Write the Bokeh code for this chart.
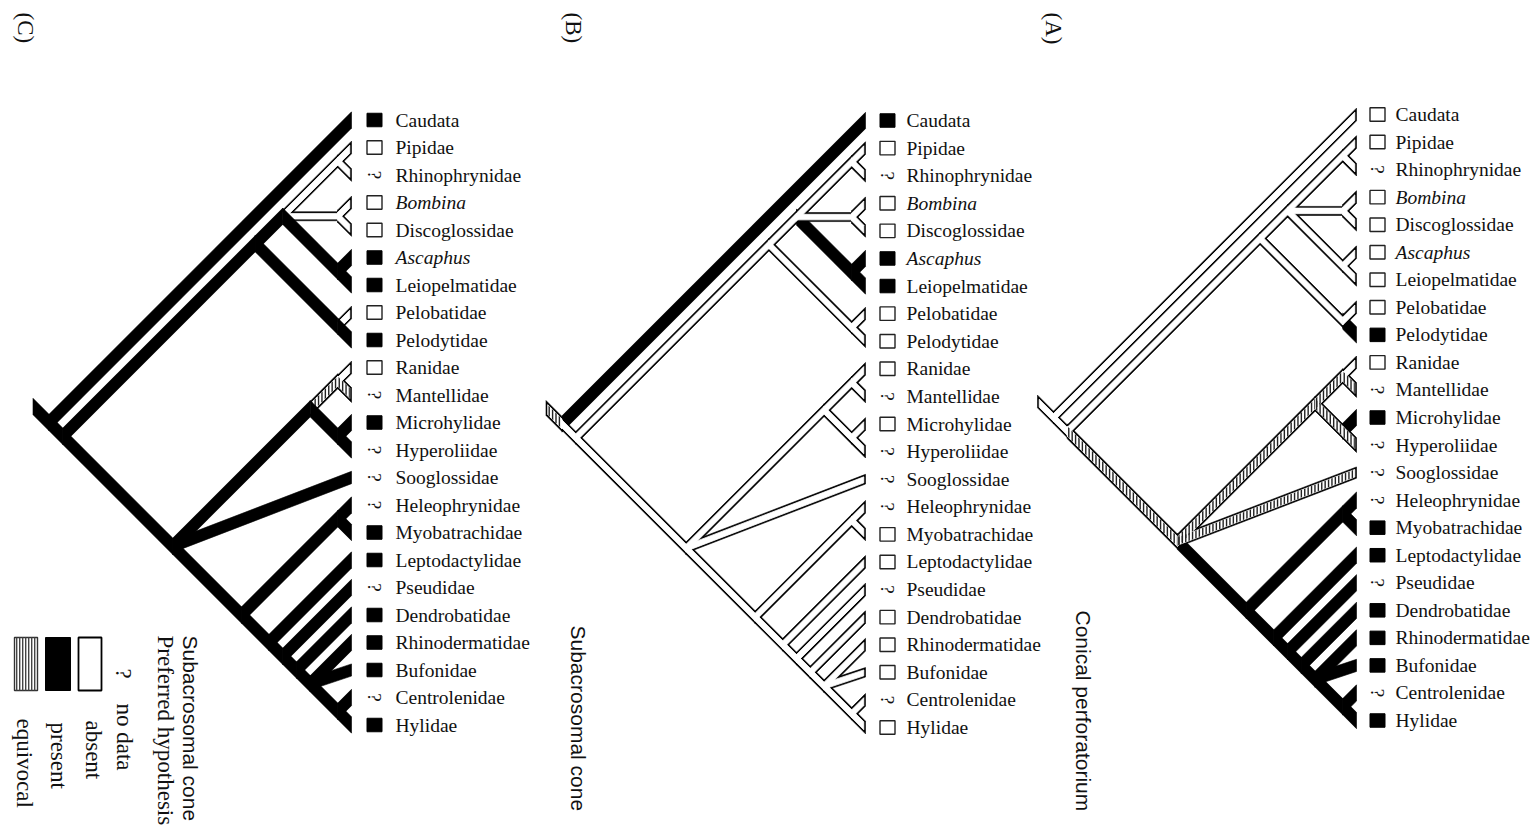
import numpy as np
from bokeh.plotting import figure
from bokeh.models import Range1d, ColumnDataSource
from bokeh.embed import file_html
from bokeh.resources import INLINE
from bokeh.core.properties import value

# ---------------- data ----------------
TAXA = ["Caudata", "Pipidae", "Rhinophrynidae", "Bombina", "Discoglossidae",
        "Ascaphus", "Leiopelmatidae", "Pelobatidae", "Pelodytidae", "Ranidae",
        "Mantellidae", "Microhylidae", "Hyperoliidae", "Sooglossidae",
        "Heleophrynidae", "Myobatrachidae", "Leptodactylidae", "Pseudidae",
        "Dendrobatidae", "Rhinodermatidae", "Bufonidae", "Centrolenidae", "Hylidae"]
ITALIC_TAXA = ["Bombina", "Ascaphus"]

# preferred hypothesis (topology)
CLADE_NAMES = ["Root", "Anura", "Archaeobatrachia", "PipLeio", "Pipoidea",
               "Discoglossoidea", "Leiopelmatoidea", "Pelobatoidea", "Neobatrachia",
               "Ranoidea", "RanMant", "MicroHyper", "Hyloidea", "HeleoMyo",
               "Hyl2", "Hyl3", "Hyl4", "Hyl5", "CentroHyl"]
CLADE_CHILDREN = [
    ["Caudata", "Anura"],
    ["Archaeobatrachia", "Neobatrachia"],
    ["PipLeio", "Pelobatoidea"],
    ["Pipoidea", "Discoglossoidea", "Leiopelmatoidea"],
    ["Pipidae", "Rhinophrynidae"],
    ["Bombina", "Discoglossidae"],
    ["Ascaphus", "Leiopelmatidae"],
    ["Pelobatidae", "Pelodytidae"],
    ["Ranoidea", "Sooglossidae", "Hyloidea"],
    ["RanMant", "MicroHyper"],
    ["Ranidae", "Mantellidae"],
    ["Microhylidae", "Hyperoliidae"],
    ["HeleoMyo", "Hyl2"],
    ["Heleophrynidae", "Myobatrachidae"],
    ["Leptodactylidae", "Hyl3"],
    ["Pseudidae", "Hyl4"],
    ["Dendrobatidae", "Hyl5"],
    ["Rhinodermatidae", "Bufonidae", "CentroHyl"],
    ["Centrolenidae", "Hylidae"],
]

BRANCHES = ["stem", "Caudata", "Anura", "Archaeobatrachia", "PipLeio",
            "Pipoidea", "Pipidae", "Rhinophrynidae",
            "Discoglossoidea", "Bombina", "Discoglossidae",
            "Leiopelmatoidea", "Ascaphus", "Leiopelmatidae",
            "Pelobatoidea", "Pelobatidae", "Pelodytidae",
            "Neobatrachia", "Ranoidea",
            "RanMant", "Ranidae", "Mantellidae",
            "MicroHyper", "Microhylidae", "Hyperoliidae",
            "Sooglossidae",
            "Hyloidea", "HeleoMyo", "Heleophrynidae", "Myobatrachidae",
            "Hyl2", "Leptodactylidae", "Hyl3", "Pseudidae", "Hyl4", "Dendrobatidae",
            "Hyl5", "Rhinodermatidae", "Bufonidae", "CentroHyl", "Centrolenidae", "Hylidae"]

# branch reconstructions: p = present, a = absent, e = equivocal
STATE_C = list("ppppp" "aaa" "aaa" "ppp" "pap" "pp" "eae" "ppp" "p" "pppppppppppppppp")
STATE_B = list("ep" "aaaaaaaaa" "ppp" "aaaaaaaaaaaaaaaaaaaaaaaaaaaa")
STATE_A = list("aaaaaaaaaaaaaaaa" "p" "eee" "a" "ee" "p" "ee" "pppppppppppppppp")

# terminal codings: 1 = present, 0 = absent, ? = no data
TIPS_C = ["1", "0", "?", "0", "0", "1", "1", "0", "1", "0", "?", "1", "?", "?", "?",
          "1", "1", "?", "1", "1", "1", "?", "1"]
TIPS_B = ["1", "0", "?", "0", "0", "1", "1", "0", "0", "0", "?", "0", "?", "?", "?",
          "0", "0", "?", "0", "0", "0", "?", "0"]
TIPS_A = ["0", "0", "?", "0", "0", "0", "0", "0", "1", "0", "?", "1", "?", "?", "?",
          "1", "1", "?", "1", "1", "1", "?", "1"]

PANEL_LETTERS = ["(C)", "(B)", "(A)"]
PANEL_TITLES = ["", "Subacrosomal cone", "Conical perforatorium"]
LEGEND_HEAD = ["Subacrosomal cone", "Preferred hypothesis"]
LEGEND_NODATA = ["?", "no data"]
LEGEND_LABELS = ["absent", "present", "equivocal"]

# ---------------- layout ----------------
W, H = 1530, 832


def dx(x):
    return x


def dy(y):
    return H - y


# tip x, first tip y, last tip y, marker offset, label offset
PANEL_GEOM = [(351, 119.5, 724.5, 23, 44),
              (865, 120.0, 727.0, 22, 41),
              (1356, 114.0, 720.0, 21, 39)]
W_PRES, W_ABS, W_EQ = 11.5, 9.0, 10.5
T_OUT = 1.7
STEM = 16
PERIOD, SW = 3.4, 1.4
SERIF = "Liberation Serif"
SANS = "Liberation Sans"
INK = "#111111"

children = dict(zip(CLADE_NAMES, CLADE_CHILDREN))


def layout(tip_x, y0, y1):
    step = (y1 - y0) / (len(TAXA) - 1)
    pos = {}
    parent = {}
    for i, t in enumerate(TAXA):
        y = y0 + i * step
        pos[t] = (tip_x, y, y, y)

    def place(n):
        if n in pos:
            return pos[n]
        vals = [place(c) for c in children[n]]
        lo = min(v[2] for v in vals)
        hi = max(v[3] for v in vals)
        pos[n] = (tip_x - (hi - lo) / 2.0, (lo + hi) / 2.0, lo, hi)
        for c in children[n]:
            parent[c] = n
        return pos[n]

    place("Root")
    return pos, parent, step


def quad(px, py, cx, cy, half, xa, xb):
    m = (cy - py) / (cx - px)
    k = np.sqrt(1 + m * m)
    hh = half * k
    ya = py + m * (xa - px)
    yb = py + m * (xb - px)
    return ([dx(xa), dx(xb), dx(xb), dx(xa)],
            [dy(ya - hh), dy(yb - hh), dy(yb + hh), dy(ya + hh)])


under = dict(xs=[], ys=[])
outer = dict(xs=[], ys=[])
inner = dict(xs=[], ys=[])
stripes = dict(xs=[], ys=[])
solid = dict(xs=[], ys=[])


def add(store, q):
    store["xs"].append(q[0])
    store["ys"].append(q[1])


sq_pres = dict(x=[], y=[])
sq_abs = dict(x=[], y=[])
qmark = dict(x=[], y=[], t=[])
lab_n = dict(x=[], y=[], t=[])
lab_i = dict(x=[], y=[], t=[])

for (tip_x, y0, y1, moff, loff), states, tips in zip(
        PANEL_GEOM, [STATE_C, STATE_B, STATE_A], [TIPS_C, TIPS_B, TIPS_A]):
    pos, parent, step = layout(tip_x, y0, y1)
    st_of = dict(zip(BRANCHES, states))
    for name, st in zip(BRANCHES, states):
        if name == "stem":
            cx, cy = pos["Root"][:2]
            px, py = cx - STEM, cy - STEM
            par_state = "p"
        else:
            px, py = pos[parent[name]][:2]
            cx, cy = pos[name][:2]
            par_state = st_of["stem" if parent[name] == "Root" else parent[name]]
        is_tip = name in TAXA
        if st == "p":
            target = solid if par_state == "p" else under
            add(target, quad(px, py, cx, cy, W_PRES / 2, px, cx))
        else:
            w = W_ABS if st == "a" else W_EQ
            add(outer, quad(px, py, cx, cy, w / 2, px, cx))
            xa = px + (T_OUT if name == "stem" else 0)
            xb = cx - (T_OUT if is_tip else 0)
            add(inner, quad(px, py, cx, cy, w / 2 - T_OUT, xa, xb))
            if st == "e":
                for s in np.arange(xa + 0.8, xb - 0.3, PERIOD):
                    add(stripes, quad(px, py, cx, cy, w / 2 - T_OUT, s, min(s + SW, xb)))
    for i, (t, s) in enumerate(zip(TAXA, tips)):
        y = y0 + i * step
        mx = tip_x + moff
        if s == "1":
            sq_pres["x"].append(dx(mx)); sq_pres["y"].append(dy(y))
        elif s == "0":
            sq_abs["x"].append(dx(mx)); sq_abs["y"].append(dy(y))
        else:
            qmark["x"].append(dx(mx)); qmark["y"].append(dy(y)); qmark["t"].append("?")
        store = lab_i if t in ITALIC_TAXA else lab_n
        store["x"].append(dx(tip_x + loff)); store["y"].append(dy(y)); store["t"].append(t)

p = figure(width=W, height=H, x_range=Range1d(0, W), y_range=Range1d(0, H),
           output_backend="svg", toolbar_location=None, min_border=0,
           x_axis_location=None, y_axis_location=None)
p.grid.visible = False
p.outline_line_color = None
p.background_fill_color = "white"
p.border_fill_color = "white"

p.patches(xs="xs", ys="ys", source=ColumnDataSource(under), fill_color="black",
          line_color="black", line_width=0.6)
p.patches(xs="xs", ys="ys", source=ColumnDataSource(outer), fill_color="black",
          line_color="black", line_width=0.6)
p.patches(xs="xs", ys="ys", source=ColumnDataSource(inner), fill_color="white",
          line_color="white", line_width=0.8)
p.patches(xs="xs", ys="ys", source=ColumnDataSource(stripes), fill_color="#222222",
          line_color=None)
p.patches(xs="xs", ys="ys", source=ColumnDataSource(solid), fill_color="black",
          line_color="black", line_width=0.6)

# tip markers
p.rect(x="x", y="y", width=15, height=13.5, source=ColumnDataSource(sq_pres),
       fill_color="black", line_color="black", line_width=1.0)
p.rect(x="x", y="y", width=15, height=13.5, source=ColumnDataSource(sq_abs),
       fill_color="white", line_color="#222222", line_width=1.4)
p.text(x="x", y="y", text="t", source=ColumnDataSource(qmark), angle=-np.pi / 2,
       text_align="center", text_baseline="middle", text_font=value(SERIF),
       text_font_size="19px", text_color=INK)

# taxon labels
p.text(x="x", y="y", text="t", source=ColumnDataSource(lab_n), text_align="left",
       text_baseline="middle", text_font=value(SERIF), text_font_size="19.5px",
       text_color=INK)
p.text(x="x", y="y", text="t", source=ColumnDataSource(lab_i), text_align="left",
       text_baseline="middle", text_font=value(SERIF), text_font_size="19.5px",
       text_font_style="italic", text_color=INK)

# panel letters and titles (rotated)
LETTER_POS = [(25, 12), (573, 12), (1053, 12)]
TITLE_POS = [(578, 625), (1083, 610)]
p.text(x=[dx(a) for a, b in LETTER_POS], y=[dy(b) for a, b in LETTER_POS],
       text=PANEL_LETTERS, angle=-np.pi / 2, text_align="left", text_baseline="middle",
       text_font=value(SERIF), text_font_size="23px", text_color=INK)
p.text(x=[dx(a) for a, b in TITLE_POS], y=[dy(b) for a, b in TITLE_POS],
       text=PANEL_TITLES[1:], angle=-np.pi / 2, text_align="left", text_baseline="middle",
       text_font=value(SANS), text_font_size="21px", text_color=INK)

# legend (panel C)
p.text(x=[dx(190)], y=[dy(635)], text=[LEGEND_HEAD[0]], angle=-np.pi / 2,
       text_align="left", text_baseline="middle", text_font=value(SANS),
       text_font_size="21px", text_color=INK)
p.text(x=[dx(165)], y=[dy(635)], text=[LEGEND_HEAD[1]], angle=-np.pi / 2,
       text_align="left", text_baseline="middle", text_font=value(SERIF),
       text_font_size="23px", text_color=INK)
p.text(x=[dx(123), dx(124)], y=[dy(668), dy(703)], text=LEGEND_NODATA, angle=-np.pi / 2,
       text_align="left", text_baseline="middle", text_font=value(SERIF),
       text_font_size="23px", text_color=INK)
p.text(x=[dx(93), dx(58), dx(24)], y=[dy(720), dy(722), dy(718)], text=LEGEND_LABELS,
       angle=-np.pi / 2, text_align="left", text_baseline="middle",
       text_font=value(SERIF), text_font_size="23px", text_color=INK)

# legend swatches: absent (white), present (black), equivocal (hatched)
BOX_TOP, BOX_BOT = 637, 690
p.quad(left=[dx(78)], right=[dx(101)], top=[dy(BOX_TOP)], bottom=[dy(BOX_BOT)],
       fill_color="white", line_color="black", line_width=1.8)
p.quad(left=[dx(45)], right=[dx(70)], top=[dy(BOX_TOP)], bottom=[dy(BOX_BOT)],
       fill_color="black", line_color="black", line_width=1.0)
p.quad(left=[dx(14)], right=[dx(37)], top=[dy(BOX_TOP)], bottom=[dy(BOX_BOT)],
       fill_color="white", line_color="#333333", line_width=1.4)
hx = list(np.arange(15.5, 36.0, 3.0))
p.quad(left=[dx(v) for v in hx], right=[dx(v + 1.4) for v in hx],
       top=[dy(BOX_TOP)] * len(hx), bottom=[dy(BOX_BOT)] * len(hx),
       fill_color="#444444", line_color=None)

open("out.html", "w").write(file_html(p, INLINE))
